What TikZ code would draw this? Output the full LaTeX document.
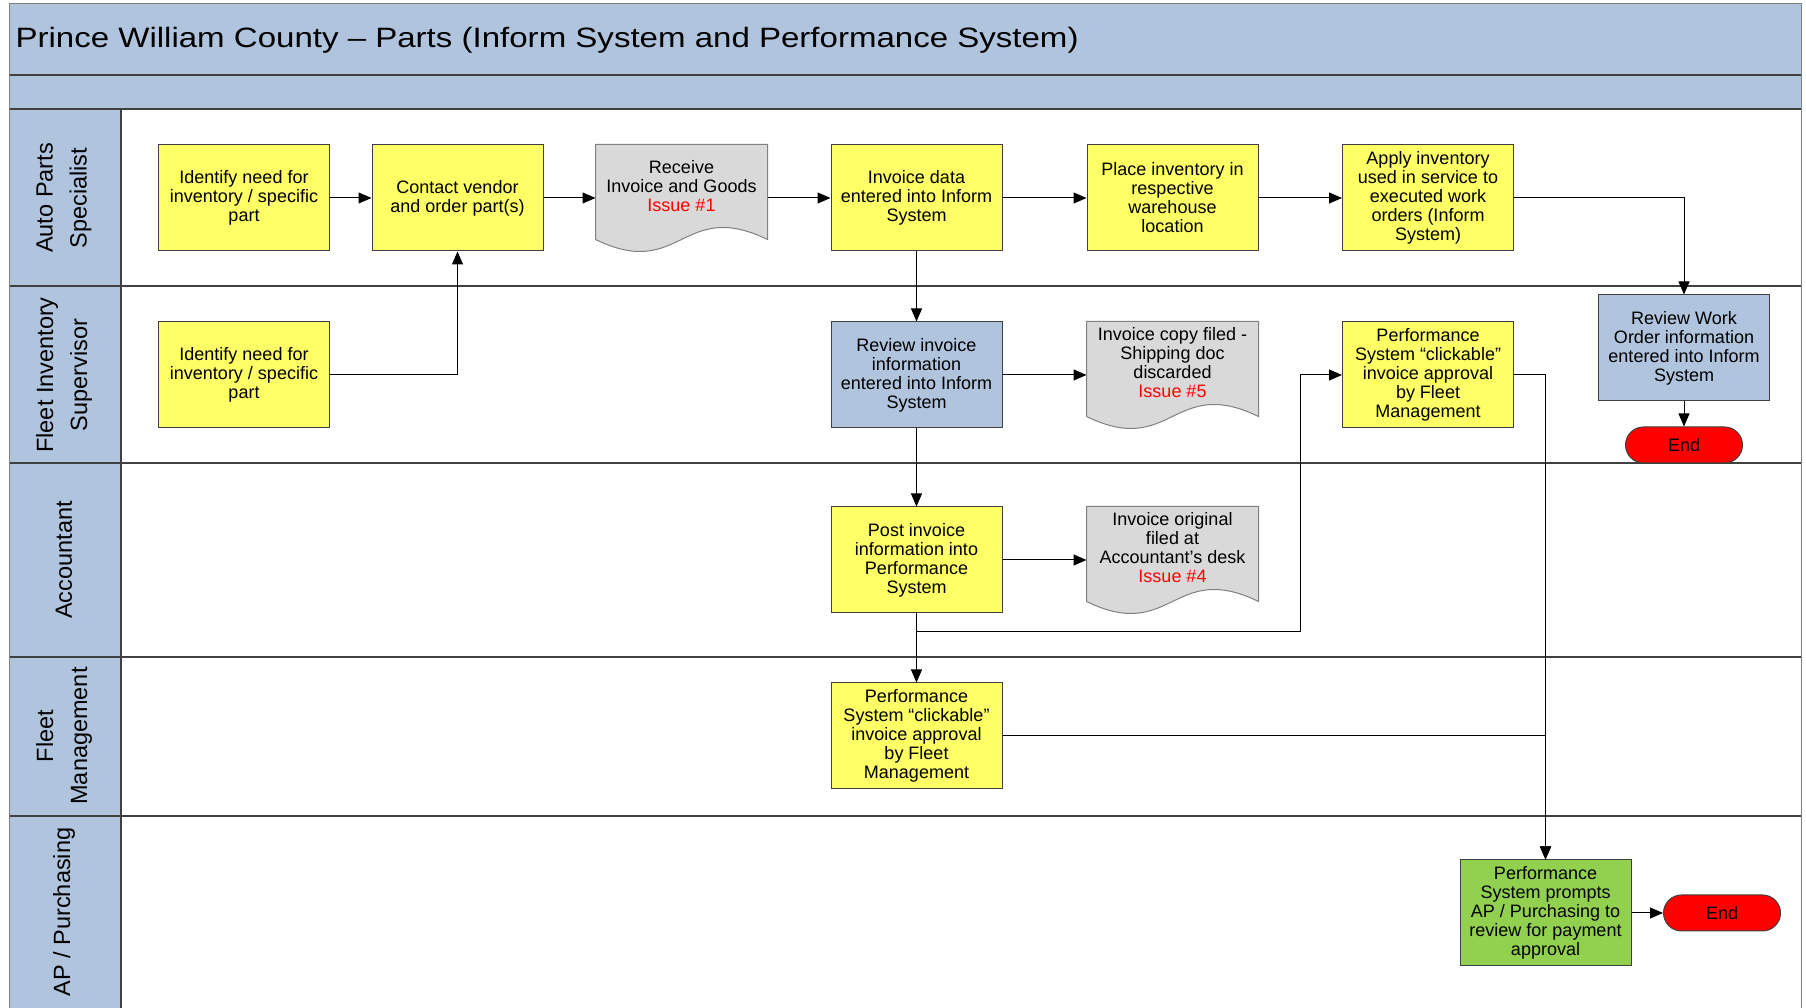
\documentclass[tikz,border=0pt]{standalone}
\usepackage{fontspec}
\setmainfont{Liberation Sans}
\newfontfamily\titlefont{Liberation Sans}[FakeStretch=1.18]
\usepackage{tikz}
\usetikzlibrary{arrows.meta,backgrounds,positioning}
\definecolor{lane}{RGB}{176,196,222}
\definecolor{task}{RGB}{255,255,102}
\definecolor{paper}{RGB}{217,217,217}
\definecolor{ap}{RGB}{146,208,80}
\definecolor{rim}{RGB}{64,64,64}

\begin{document}
\begin{tikzpicture}
[x=1pt,y=1pt,
 box/.style={rectangle,draw=rim,fill=task,line width=1pt,minimum width=171pt,
   minimum height=106pt,inner sep=2pt,align=center,font=\fontsize{18}{19}\selectfont},
 check/.style={box,fill=lane},
 pay/.style={box,fill=ap},
 docnode/.style={box,draw=none,fill=none,minimum height=82pt},
 stop/.style={rectangle,rounded corners=18pt,draw=rim,fill=red,line width=1pt,
   minimum width=117pt,minimum height=36pt,font=\fontsize{18}{19}\selectfont},
 lanename/.style={rotate=90,align=center,font=\fontsize{23.5}{34}\selectfont},
 flow/.style={-{Triangle[length=13pt,width=11pt]},line width=1pt},
 wall/.style={line width=1.5pt,draw=rim}]
\useasboundingbox (0,0) rectangle (1806,1008);

% lanes
\fill[lane] (9,899) rectangle (1801,1004);
\fill[lane] (9,0) rectangle (121,899);
\draw[wall] (9,933) -- (1801,933);
\draw[wall] (9,899) -- (1801,899);
\foreach \y in {722,545,351,192}
  \draw[wall] (9,\y) -- (1801,\y);
\draw[wall] (121,0) -- (121,899);
\draw[line width=1pt,draw=gray] (9,0) -- (9,1004) -- (1801,1004) -- (1801,0);

\node[anchor=west,font=\titlefont\fontsize{28}{34}\selectfont] (title) at (12,968)
{Prince William County – Parts (Inform System and Performance System)};

\node[lanename] (l1) at (64,810) {Auto Parts\\Specialist};
\node[lanename] (l2) at (64,633) {Fleet Inventory\\Supervisor};
\node[lanename] (l3) at (64,448) {Accountant};
\node[lanename] (l4) at (64,272) {Fleet\\Management};
\node[lanename] (l5) at (64,96) {AP / Purchasing};

% steps
\node[box] (11) at (244,810) {Identify need for\\inventory / specific\\part};
\node[box] (12) at (457.5,810) {Contact vendor\\and order part(s)};
\node[docnode] (13) at (681.5,822) {Receive\\Invoice and Goods\\{\color{red}Issue \#1}};
\node[box] (14) at (916.5,810) {Invoice data\\entered into Inform\\System};
\node[box] (15) at (1172.5,810) {Place inventory in\\respective\\warehouse\\location};
\node[box] (16) at (1428,810) {Apply inventory\\used in service to\\executed work\\orders (Inform\\System)};

\node[box] (21) at (244,633) {Identify need for\\inventory / specific\\part};
\node[check] (24) at (916.5,633) {Review invoice\\information\\entered into Inform\\System};
\node[docnode] (25) at (1172.5,645) {Invoice copy filed -\\Shipping doc\\discarded\\{\color{red}Issue \#5}};
\node[box] (26) at (1428,633) {Performance\\System “clickable”\\invoice approval\\by Fleet\\Management};
\node[check] (27) at (1684,660) {Review Work\\Order information\\entered into Inform\\System};
\node[stop] (e2) at (1684,563) {End};

\node[box] (34) at (916.5,448) {Post invoice\\information into\\Performance\\System};
\node[docnode] (35) at (1172.5,460) {Invoice original\\filed at\\Accountant’s desk\\{\color{red}Issue \#4}};

\node[box] (44) at (916.5,272) {Performance\\System “clickable”\\invoice approval\\by Fleet\\Management};

\node[pay] (51) at (1545.5,95) {Performance\\System prompts\\AP / Purchasing to\\review for payment\\approval};
\node[stop] (e5) at (1722,95) {End};

\coordinate (j1) at (1300,376);

% flow
\draw[flow] (11) -- (12);
\draw[flow] (12.east) -- (12.east -| 13.west);
\draw[flow] (14.west -| 13.east) -- (14.west);
\draw[flow] (14) -- (15);
\draw[flow] (15) -- (16);
\draw[flow] (16.east) -| (27.north);
\draw[flow] (14) -- (24);
\draw[flow] (21.east) -| (12.south);
\draw[flow] (24.east) -- (24.east -| 25.west);
\draw[flow] (24) -- (34);
\draw[flow] (34.east) -- (34.east -| 35.west);
\draw[flow] (34) -- (44);
\draw[flow] (34.south) |- (j1) |- (26.west);
\draw[flow] (26.east) -| (51.north);
\draw[flow] (44.east) -| (51.north);
\draw[flow] (27) -- (e2);
\draw[flow] (51.east) -- (51.east -| e5.west);

% paper shapes
\begin{scope}[on background layer]
\foreach \n in {13,25,35}
  \draw[draw=gray,fill=paper,line width=1pt] (\n.north west) -- (\n.north east)
    -- ([yshift=-12pt]\n.south east) .. controls +(-85.5,41.6) and +(85.5,-41.6)
    .. ([yshift=-12pt]\n.south west) -- cycle;
\end{scope}
\end{tikzpicture}
\end{document}
